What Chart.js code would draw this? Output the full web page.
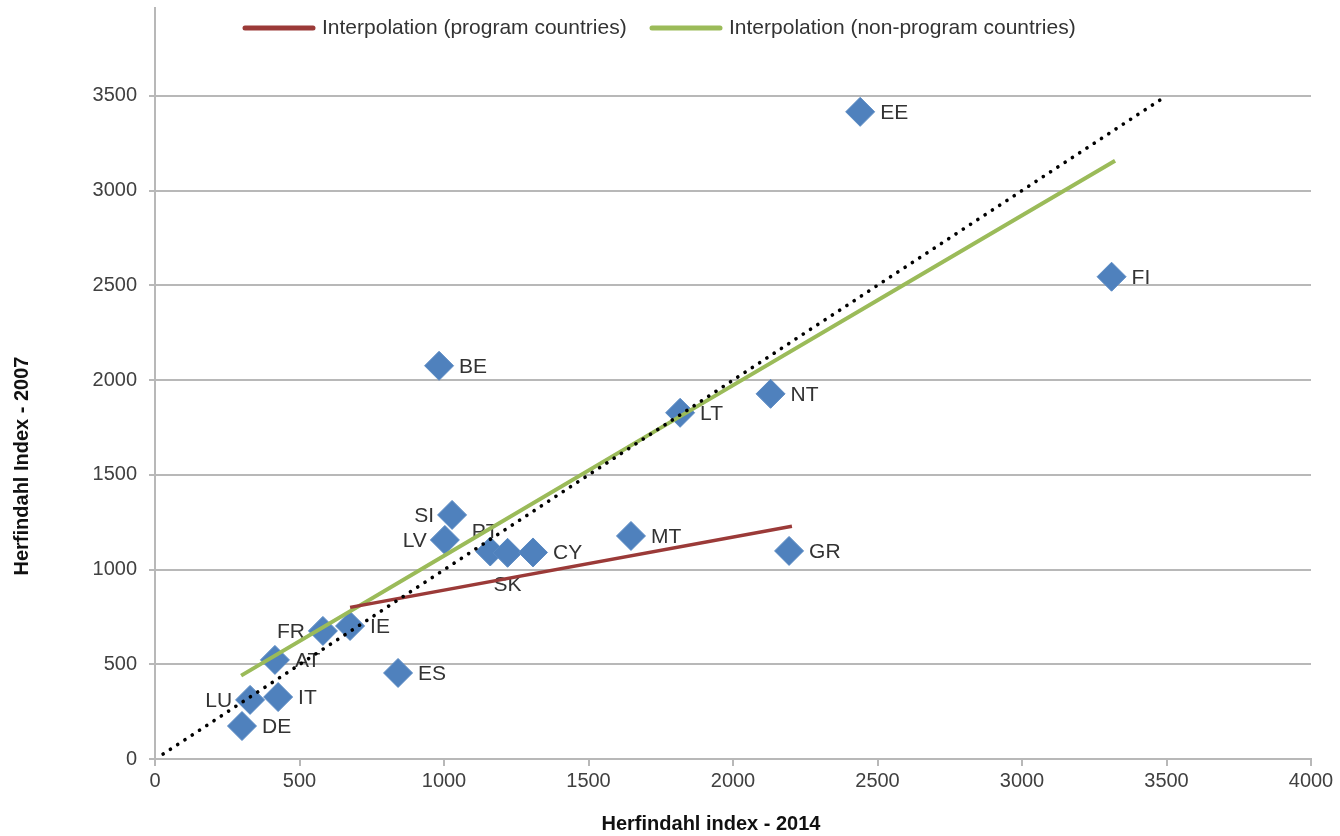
<!DOCTYPE html>
<html><head><meta charset="utf-8">
<script src="https://cdn.jsdelivr.net/npm/chart.js@4.4.1/dist/chart.umd.min.js"></script>
<style>html,body{margin:0;padding:0;background:#fff;overflow:hidden}</style>
</head><body>
<canvas id="c" width="1340" height="836"></canvas>
<script>
// ---- data ----
const countries = ['EE','FI','BE','NT','LT','SI','LV','PT','SK','CY','MT','GR','FR','IE','AT','ES','LU','IT','DE'];
const hhi2014   = [2440,3310,983,2130,1817,1028,1003,1160,1220,1308,1647,2194,581,675,415,841,329,426,301];
const hhi2007   = [3415,2545,2075,1927,1827,1288,1156,1095,1088,1090,1177,1098,676,702,523,454,312,327,174];
const programX = [675, 2204];
const programY = [800, 1228];
const nonProgramX = [298, 1817, 3322];
const nonProgramY = [440, 1808, 3157];
const diagonalX = [28, 3490];
const diagonalY = [26, 3490];
const xTickValues = [0,500,1000,1500,2000,2500,3000,3500,4000];
const yTickValues = [0,500,1000,1500,2000,2500,3000,3500,4000];
const legendLabels = ['Interpolation (program countries)','Interpolation (non-program countries)'];
const xTitle = 'Herfindahl index - 2014';
const yTitle = 'Herfindahl Index - 2007';

const toXY = (xs, ys) => xs.map((x, i) => ({x: x, y: ys[i]}));

const FONT = '"Liberation Sans", Arial, sans-serif';
const GRID = '#b8b8b8';
const TEXT = '#404040';
const RED = '#9B3A38';
const GREEN = '#9BBB59';
const BLUE = '#4F81BD';

const labelSide = {SI:'left', LV:'left', FR:'left', LU:'left', PT:'above', SK:'below'};

const pointLabels = {
  id: 'pointLabels',
  beforeDatasetsDraw(chart) {
    const meta = chart.getDatasetMeta(3);
    const ctx = chart.ctx;
    ctx.save();
    ctx.font = '21px ' + FONT;
    ctx.fillStyle = '#333333';
    ctx.textBaseline = 'middle';
    meta.data.forEach((el, i) => {
      const name = countries[i];
      const side = labelSide[name] || 'right';
      let x = el.x, y = el.y;
      if (side === 'right') { ctx.textAlign = 'left'; x += 20; }
      else if (side === 'left') { ctx.textAlign = 'right'; x -= 18; }
      else if (side === 'above') { ctx.textAlign = 'center'; x -= 5; y -= 20; }
      else { ctx.textAlign = 'center'; y += 31; }
      ctx.fillText(name, x, y + 1);
    });
    ctx.restore();
  }
};

const decorations = {
  id: 'decorations',
  afterDraw(chart) {
    const ctx = chart.ctx;
    ctx.save();
    // legend area (covers the top of the plot like the original legend box)
    ctx.fillStyle = '#ffffff';
    ctx.fillRect(148, 0, 12, 7);
    ctx.font = '21px ' + FONT;
    ctx.textBaseline = 'middle';
    ctx.textAlign = 'left';
    const items = [{c: RED, x0: 245, x1: 313, tx: 322}, {c: GREEN, x0: 652, x1: 720, tx: 729}];
    items.forEach((it, i) => {
      ctx.strokeStyle = it.c;
      ctx.lineWidth = 5;
      ctx.lineCap = 'round';
      ctx.beginPath(); ctx.moveTo(it.x0, 28); ctx.lineTo(it.x1, 28); ctx.stroke();
      ctx.fillStyle = '#333333';
      ctx.fillText(legendLabels[i], it.tx, 28);
    });
    // axis titles
    ctx.fillStyle = '#111111';
    ctx.font = 'bold 20px ' + FONT;
    ctx.textAlign = 'center';
    ctx.fillText(xTitle, 711, 824);
    ctx.translate(22, 466);
    ctx.rotate(-Math.PI / 2);
    ctx.fillText(yTitle, 0, 0);
    ctx.restore();
  }
};

new Chart(document.getElementById('c'), {
  type: 'scatter',
  data: {
    datasets: [
      { label: legendLabels[0], type: 'line', data: toXY(programX, programY), borderColor: RED, borderWidth: 3.5, pointRadius: 0, fill: false, order: 1 },
      { label: legendLabels[1], type: 'line', data: toXY(nonProgramX, nonProgramY), borderColor: GREEN, borderWidth: 4, pointRadius: 0, fill: false, tension: 0.2, order: 1 },
      { label: 'diagonal', type: 'line', data: toXY(diagonalX, diagonalY), borderColor: '#000000', borderWidth: 3.6, borderDash: [0.1, 8.6], borderCapStyle: 'round', pointRadius: 0, fill: false, order: 0 },
      { label: 'countries', data: toXY(hhi2014, hhi2007), pointStyle: 'rectRot', pointRadius: 14.5, pointHoverRadius: 14.5, backgroundColor: BLUE, borderColor: '#5a8ac3', borderWidth: 1, order: 5 }
    ]
  },
  options: {
    responsive: false,
    animation: false,
    devicePixelRatio: 1,
    layout: { autoPadding: false, padding: { top: 1, right: 29, left: 0, bottom: 0 } },
    plugins: { legend: { display: false }, tooltip: { enabled: false } },
    scales: {
      x: {
        type: 'linear', min: 0, max: 4000,
        afterBuildTicks: s => { s.ticks = xTickValues.map(v => ({value: v})); },
        afterFit: s => { s.height = 77; s.paddingLeft = 0; s.paddingRight = 0; },
        grid: { drawOnChartArea: false, drawTicks: true, tickLength: 7, color: GRID, lineWidth: 2 },
        border: { color: GRID, width: 2 },
        ticks: { font: { family: FONT, size: 20 }, color: TEXT, padding: 3, maxRotation: 0,
                 callback: v => String(v) }
      },
      y: {
        type: 'linear', min: 0, max: 4000,
        afterBuildTicks: s => { s.ticks = yTickValues.map(v => ({value: v})); },
        afterFit: s => { s.width = 155; s.paddingTop = 0; s.paddingBottom = 0; },
        grid: { drawOnChartArea: true, drawTicks: true, tickLength: 6, lineWidth: 2,
                color: c => (c.tick && c.tick.value === 4000) ? 'rgba(0,0,0,0)' : GRID },
        border: { color: GRID, width: 2 },
        ticks: { font: { family: FONT, size: 20 }, color: TEXT, padding: 12,
                 callback: v => v === 4000 ? '' : String(v) }
      }
    }
  },
  plugins: [pointLabels, decorations]
});
</script>
</body></html>
